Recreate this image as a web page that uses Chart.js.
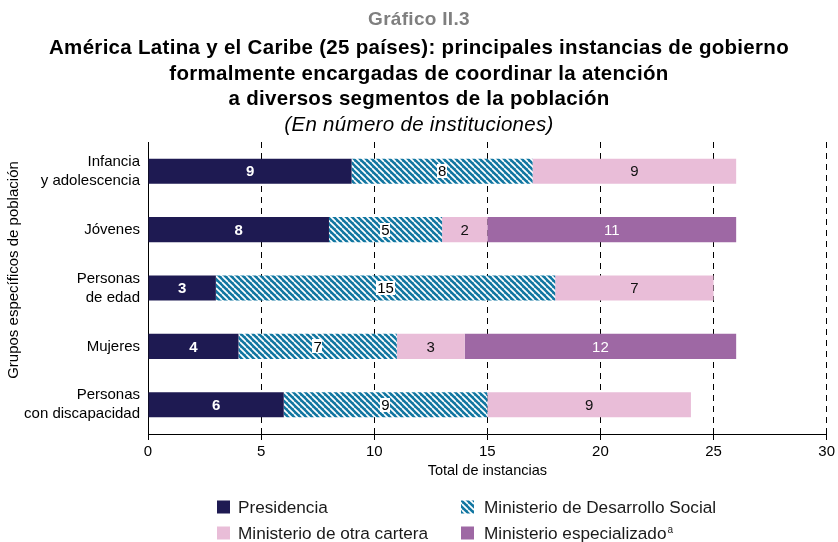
<!DOCTYPE html>
<html><head><meta charset="utf-8">
<script src="https://cdn.jsdelivr.net/npm/chart.js@4.4.1/dist/chart.umd.min.js"></script>
<style>
html,body{margin:0;padding:0;background:#fff;}
#wrap{position:relative;width:838px;height:542px;overflow:hidden;background:#fff;}
#c{position:absolute;left:0;top:0;}
.t{position:absolute;left:0;width:838px;text-align:center;white-space:nowrap;font-family:"Liberation Sans",Arial,sans-serif;height:24px;line-height:24px;color:#000;letter-spacing:0.3px;}
</style></head><body>
<div id="wrap">
<canvas id="c" width="838" height="542"></canvas>
<div class="t" style="top:7px;font-size:19px;font-weight:bold;color:#7f7f7f">Gráfico II.3</div>
<div class="t" style="top:35px;font-size:20.5px;font-weight:bold;">América Latina y el Caribe (25 países): principales instancias de gobierno</div>
<div class="t" style="top:61px;font-size:20.5px;font-weight:bold;">formalmente encargadas de coordinar la atención</div>
<div class="t" style="top:86px;font-size:20.5px;font-weight:bold;">a diversos segmentos de la población</div>
<div class="t" style="top:112px;font-size:20.5px;font-style:italic;">(En número de instituciones)</div>
</div>
<script>
const categories = [["Infancia","y adolescencia"],["Jóvenes"],["Personas","de edad"],["Mujeres"],["Personas","con discapacidad"]];
const seriesNames = ["Presidencia","Ministerio de Desarrollo Social","Ministerio de otra cartera","Ministerio especializado"];
const seriesNotes = ["","","","a"];
const presidencia = [9,8,3,4,6];
const desarrolloSocial = [8,5,15,7,9];
const otraCartera = [9,2,7,3,9];
const especializado = [null,11,null,12,null];
const xTicks = [0,5,10,15,20,25,30];
const xTitle = "Total de instancias";
const yTitle = "Grupos específicos de población";

const NAVY = '#1e1a52', BLUE = '#1176a1', PINK = '#e9bdd8', PURPLE = '#9e68a4';
const FONT = '"Liberation Sans", Arial, sans-serif';

function hatch(){
  const s = 6, p = document.createElement('canvas');
  p.width = s; p.height = s;
  const g = p.getContext('2d');
  g.fillStyle = BLUE; g.fillRect(0,0,s,s);
  g.strokeStyle = '#ffffff'; g.lineWidth = 1.7;
  for (const k of [-s,0,s]) { g.beginPath(); g.moveTo(k,0); g.lineTo(k+s,s); g.stroke(); }
  return document.getElementById('c').getContext('2d').createPattern(p,'repeat');
}
const HATCH = hatch();
const fills = [NAVY, HATCH, PINK, PURPLE];
const labelStyles = [
  {color:'#ffffff', weight:'bold', box:false},
  {color:'#000000', weight:'normal', box:true},
  {color:'#111111', weight:'normal', box:false},
  {color:'#ffffff', weight:'normal', box:false}
];
const seriesData = [presidencia, desarrolloSocial, otraCartera, especializado];

const valueLabels = {
  id:'valueLabels',
  afterDatasetsDraw(chart){
    const ctx = chart.ctx;
    ctx.save();
    chart.data.datasets.forEach((ds,i)=>{
      const meta = chart.getDatasetMeta(i);
      const st = labelStyles[i];
      meta.data.forEach((el,j)=>{
        const v = ds.data[j];
        if (v == null || v === 0) return;
        const {x, base, y} = el.getProps(['x','base','y'], true);
        const cx = (x + base) / 2;
        const txt = String(v);
        ctx.font = st.weight + ' 15px ' + FONT;
        ctx.textAlign = 'center'; ctx.textBaseline = 'middle';
        if (st.box) {
          const w = ctx.measureText(txt).width + 2;
          ctx.fillStyle = '#ffffff';
          ctx.fillRect(Math.round(cx - w/2), Math.round(y - 7), Math.round(w), 14);
        }
        ctx.fillStyle = st.color;
        ctx.fillText(txt, cx, y + 1);
      });
    });
    ctx.restore();
  }
};

const yAxisTitle = {
  id:'yAxisTitle',
  afterDraw(chart){
    const ctx = chart.ctx;
    ctx.save();
    ctx.translate(14, 270);
    ctx.rotate(-Math.PI/2);
    ctx.font = '15px ' + FONT;
    ctx.fillStyle = '#000';
    ctx.textAlign = 'center'; ctx.textBaseline = 'middle';
    ctx.fillText(yTitle, 0, 0);
    ctx.restore();
  }
};

const customLegend = {
  id:'customLegend',
  afterDraw(chart){
    const ctx = chart.ctx;
    const cols = [217, 461], textOff = [21, 23], rows = [507, 533];
    ctx.save();
    chart.data.datasets.forEach((ds,i)=>{
      const c = i % 2, cx = cols[c], cy = rows[Math.floor(i / 2)];
      ctx.fillStyle = ds.backgroundColor;
      ctx.fillRect(cx, cy - 6.5, 13, 13);
      ctx.font = '17.2px ' + FONT;
      ctx.fillStyle = '#1a1a1a';
      ctx.textAlign = 'left'; ctx.textBaseline = 'middle';
      const tx = cx + textOff[c];
      ctx.fillText(ds.label, tx, cy + 1);
      if (seriesNotes[i]) {
        const w = ctx.measureText(ds.label).width;
        ctx.font = '10px ' + FONT;
        ctx.fillText(seriesNotes[i], tx + w + 1, cy - 3);
      }
    });
    ctx.restore();
  }
};

new Chart(document.getElementById('c'), {
  type:'bar',
  data:{
    labels: categories,
    datasets: seriesNames.map((n,i)=>({
      label:n, data:seriesData[i], backgroundColor:fills[i], borderWidth:0,
      barPercentage:0.43, categoryPercentage:1
    }))
  },
  options:{
    indexAxis:'y', responsive:false, animation:false, devicePixelRatio:1, events:[],
    layout:{padding:{top:142, right:11, bottom:59, left:0}},
    plugins:{legend:{display:false}, tooltip:{enabled:false}, title:{display:false}},
    scales:{
      x:{
        stacked:true, min:0, max:30,
        afterBuildTicks(s){ s.ticks = xTicks.map(v=>({value:v})); },
        afterFit(s){ s.height = 49; },
        ticks:{color:'#000', font:{family:FONT, size:15}, padding:3, maxRotation:0},
        grid:{color:'#000', lineWidth:1, drawTicks:true, tickLength:6, tickColor:'#000', tickBorderDash:[]},
        border:{display:true, color:'#000', width:1, dash:[6,5]},
        title:{display:true, text:xTitle, color:'#000', font:{family:FONT, size:14.5}, padding:{top:4,bottom:3}}
      },
      y:{
        stacked:true,
        afterFit(s){ s.width = 148; },
        ticks:{color:'#000', font:{family:FONT, size:15, lineHeight:1.27}, padding:8, crossAlign:'near'},
        grid:{display:false, drawTicks:false},
        border:{display:true, color:'#000', width:1},
        title:{display:false}
      }
    }
  },
  plugins:[valueLabels, yAxisTitle, customLegend]
});
</script>
</body></html>
